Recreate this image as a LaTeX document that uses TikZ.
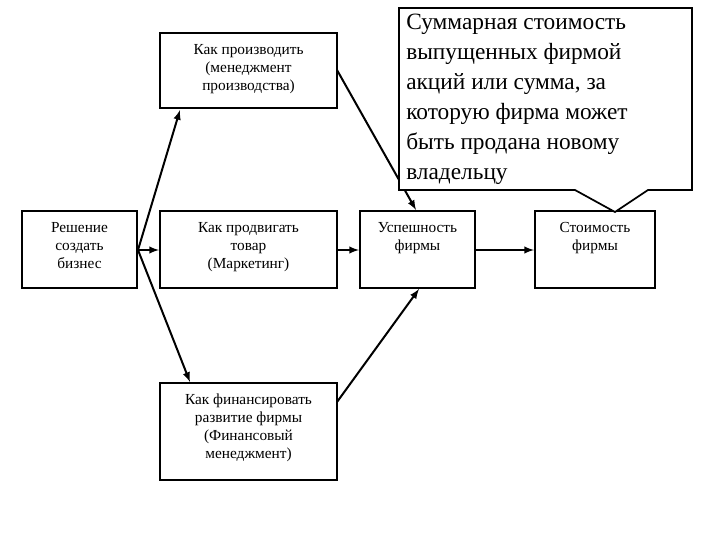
\documentclass[tikz,border=0pt]{standalone}
\usepackage{fontspec}
\setmainfont{Liberation Serif}
\begin{document}
\begin{tikzpicture}[x=0.75pt,y=-0.75pt,
  box/.style={draw,line width=1.3pt,fill=white,inner sep=0pt},
  lbl/.style={align=center,anchor=north,font=\fontsize{11.5}{13.5}\selectfont},
  arr/.style={-latex,line width=1.5pt}]
\useasboundingbox (0,0) rectangle (720,540);
\fill[white] (0,0) rectangle (720,540);
% boxes
\draw[box] (160,33) rectangle (337,108); \node[lbl] (p) at (248.5,40) {Как производить\\(менеджмент\\производства)};
\draw[box] (22,211) rectangle (137,288); \node[lbl] (r) at (79.5,218) {Решение\\создать\\бизнес};
\draw[box] (160,211) rectangle (337,288); \node[lbl] (m) at (248.5,218) {Как продвигать\\товар\\(Маркетинг)};
\draw[box] (360,211) rectangle (475,288); \node[lbl] (u) at (417.5,218) {Успешность\\фирмы};
\draw[box] (535,211) rectangle (655,288); \node[lbl] (s) at (595,218) {Стоимость\\фирмы};
\draw[box] (160,383) rectangle (337,480); \node[lbl] (f) at (248.5,389) {Как финансировать\\развитие фирмы\\(Финансовый\\менеджмент)};
% connectors
\coordinate (fork) at (138,250);
\coordinate (pb) at (180,110); \coordinate (fb) at (190,382);
\coordinate (ml) at (159,250);
\draw[arr] (fork) -- (pb);
\draw[arr] (fork) -- (ml);
\draw[arr] (fork) -- (fb);
\coordinate (mr) at (337,250); \coordinate (ul) at (359,250);
\draw[arr] (mr) -- (ul);
\coordinate (pr) at (337,70); \coordinate (ut) at (416,210);
\draw[arr] (pr) -- (ut);
\coordinate (fr) at (337,402); \coordinate (ub) at (419,289);
\draw[arr] (fr) -- (ub);
\coordinate (ur) at (475,250); \coordinate (sl) at (534,250);
\draw[arr] (ur) -- (sl);
% callout
\draw[line width=1.3pt,fill=white] (399,8) -- (692,8) -- (692,190) -- (648,190) -- (615,212) -- (575,190) -- (399,190) -- cycle;
\node[anchor=north west,align=left,inner sep=0pt,font=\fontsize{17.5}{22.5}\selectfont] (c) at (406,14)
 {Суммарная стоимость\\выпущенных фирмой\\акций или сумма, за\\которую фирма может\\быть продана новому\\владельцу};
\end{tikzpicture}
\end{document}
